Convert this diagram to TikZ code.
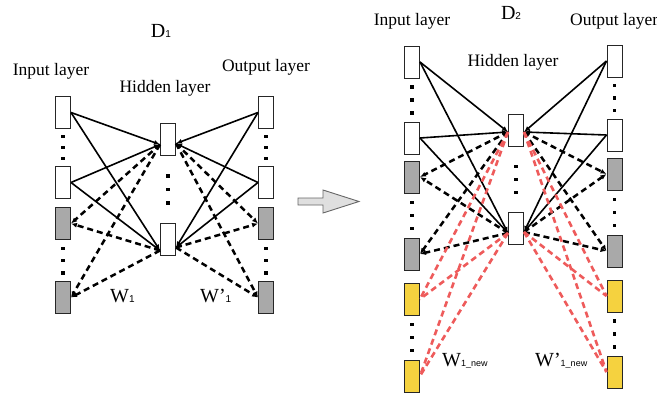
\documentclass[tikz,border=0pt]{standalone}
\usepackage{fontspec}
\setmainfont{Liberation Serif}
\newfontfamily\subsans{Liberation Sans}
\usepackage{xcolor}
\usepackage{tikz}
\usetikzlibrary{positioning,calc,arrows.meta}

\definecolor{unitgray}{HTML}{A9A9A9}
\definecolor{unityellow}{HTML}{F5D23F}
\definecolor{newred}{HTML}{EE5B5B}

\newcommand{\lowidx}[2][10]{\raisebox{-0.3pt}{\subsans\fontsize{#1}{#1}\selectfont #2}}

\tikzset{
  unit/.style={draw=black!85, line width=1pt, minimum width=15pt, minimum height=32pt, inner sep=0pt},
  wunit/.style={unit, fill=white},
  gunit/.style={unit, fill=unitgray},
  yunit/.style={unit, fill=unityellow},
  lbl/.style={font=\fontsize{17.5}{20}\selectfont, inner sep=0pt},
  biglbl/.style={font=\fontsize{20}{22}\selectfont, inner sep=0pt},
  tip/.style={-{Latex[length=6pt,width=5pt]}},
  solidlink/.style={tip, line width=1.6pt},
  dashlink/.style={tip, line width=2.5pt, dash pattern=on 6pt off 4pt},
  redlink/.style={line width=2.6pt, newred, dash pattern=on 6pt off 4pt},
}

\begin{document}
\begin{tikzpicture}[>=latex, x=1pt, y=-1pt]
  \useasboundingbox (0,0) rectangle (657,394);

  % D1 units
  \node [wunit] (I1) at (63,112.5) {};
  \node [wunit, below=37pt of I1] (I2) {};
  \node [gunit, below=8pt of I2] (I3) {};
  \node [gunit, below=41pt of I3] (I4) {};
  \node [wunit] (H1) at (168,139.5) {};
  \node [wunit, below=67pt of H1] (H2) {};
  \node [wunit] (O1) at (266,112.5) {};
  \node [wunit, below=37pt of O1] (O2) {};
  \node [gunit, below=8pt of O2] (O3) {};
  \node [gunit, below=41pt of O3] (O4) {};

  % D2 units
  \node [wunit] (NI1) at (412,62) {};
  \node [wunit, below=43pt of NI1] (NI2) {};
  \node [gunit, below=6pt of NI2] (NI3) {};
  \node [gunit, below=44pt of NI3] (NI4) {};
  \node [yunit, below=12pt of NI4] (NI5) {};
  \node [yunit, below=44pt of NI5] (NI6) {};
  \node [wunit] (NH1) at (516,130.5) {};
  \node [wunit, below=65pt of NH1] (NH2) {};
  \node [wunit] (NO1) at (614.5,61) {};
  \node [wunit, below=41pt of NO1] (NO2) {};
  \node [gunit, below=6pt of NO2] (NO3) {};
  \node [gunit, below=44pt of NO3] (NO4) {};
  \node [yunit, below=12pt of NO4] (NO5) {};
  \node [yunit, below=43pt of NO5] (NO6) {};

  % dots between units
  \foreach \a/\b in {I1/I2, I3/I4, O1/O2, O3/O4, NI1/NI2, NI3/NI4, NI5/NI6, NO1/NO2, NO3/NO4, NO5/NO6}
    \foreach \t in {0.2,0.5,0.8}
      \fill ($(\a.south)!\t!(\b.north)$) ++(-1.7,-1.7) rectangle ++(3.4,3.4);
  \foreach \a/\b in {H1/H2, NH1/NH2}
    \foreach \t in {0.3,0.5,0.7}
      \fill ($(\a.south)!\t!(\b.north)$) ++(-1.7,-1.7) rectangle ++(3.4,3.4);

  % meeting points on the hidden units
  \coordinate (H1l) at ([yshift=-5pt]H1.west);
  \coordinate (H1r) at ([yshift=-4pt]H1.east);
  \coordinate (H2l) at ([yshift=-11pt]H2.west);
  \coordinate (H2r) at ([yshift=-8pt]H2.east);
  \coordinate (NH1l) at ([yshift=-1.5pt]NH1.west);
  \coordinate (NH1r) at ([yshift=-1.5pt]NH1.east);
  \coordinate (NH2l) at ([yshift=-4.5pt]NH2.west);
  \coordinate (NH2r) at ([yshift=-3.5pt]NH2.east);

  % D1 links
  \foreach \s in {I1,I2}
    \foreach \t in {H1l,H2l}
      \draw [solidlink] (\s.east) -- (\t);
  \foreach \s in {O1,O2}
    \foreach \t in {H1r,H2r}
      \draw [solidlink] (\s.west) -- (\t);
  \foreach \s in {H1l,H2l}
    \foreach \t in {I3,I4}
      \draw [dashlink] (\s) -- (\t.east);
  \foreach \s in {H1r,H2r}
    \foreach \t in {O3,O4}
      \draw [dashlink] (\s) -- (\t.west);

  % D2 links
  \foreach \s in {NI1,NI2}
    \foreach \t in {NH1l,NH2l}
      \draw [solidlink] (\s.east) -- (\t);
  \foreach \s in {NO1,NO2}
    \foreach \t in {NH1r,NH2r}
      \draw [solidlink] (\s.west) -- (\t);
  \foreach \s in {NH1l,NH2l}
    \foreach \t in {NI3,NI4}
      \draw [dashlink] (\s) -- (\t.east);
  \foreach \s in {NH1r,NH2r}
    \foreach \t in {NO3,NO4}
      \draw [dashlink] (\s) -- (\t.west);
  \foreach \s in {NH1l,NH2l}
    \foreach \t in {NI5,NI6}
      \draw [redlink] (\s) -- (\t.east);
  \foreach \s in {NH1r,NH2r}
    \foreach \t in {NO5,NO6}
      \draw [redlink] (\s) -- (\t.west);

  % block arrow D1 -> D2
  \draw [black!60, fill=gray!25, line width=0.9pt] (298,198) -- (323,198) -- (323,190) -- (359,201.5)
    -- (323,213) -- (323,205) -- (298,205) -- cycle;

  % labels
  \node [biglbl] (D1) at (161,31) {D\lowidx{1}};
  \node [lbl] (inD1) at (51,71) {Input layer};
  \node [lbl] (hidD1) at (165,88) {Hidden layer};
  \node [lbl] (outD1) at (266,67) {Output layer};
  \node [biglbl, anchor=west] (W1) at (110,296) {W\lowidx{1}};
  \node [biglbl, anchor=west] (W1p) at (200,296) {W’\lowidx{1}};

  \node [biglbl] (D2) at (511,13) {D\lowidx{2}};
  \node [lbl] (inD2) at (412,21) {Input layer};
  \node [lbl] (hidD2) at (513,62) {Hidden layer};
  \node [lbl, anchor=west] (outD2) at (570,21) {Output layer};
  \node [biglbl, anchor=west] (W2) at (442,361) {W\lowidx[9]{1\_new}};
  \node [biglbl, anchor=west] (W2p) at (535,361) {W’\lowidx[9]{1\_new}};
\end{tikzpicture}
\end{document}
